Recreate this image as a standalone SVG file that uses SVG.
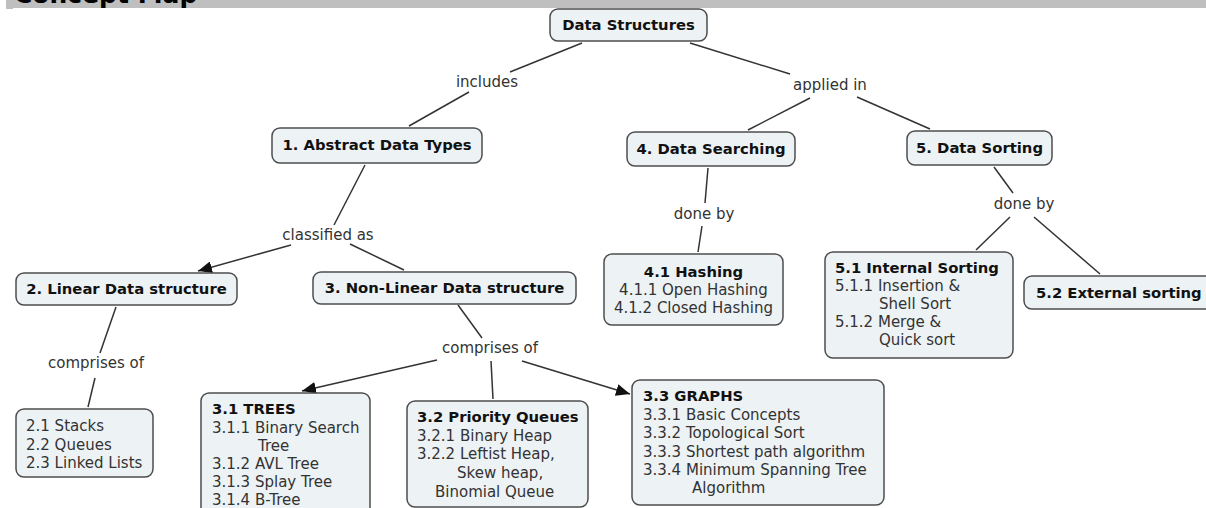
<svg xmlns="http://www.w3.org/2000/svg" width="1206" height="508" viewBox="0 0 1206 508">
<style>
.node rect{fill:#edf2f5;stroke:#4d4d4d;stroke-width:1.5}
.t{font-family:"DejaVu Sans",Verdana,sans-serif;font-size:15px;fill:#333}
.b{font-family:"DejaVu Sans",Verdana,sans-serif;font-size:14.8px;font-weight:bold;fill:#111}
.c{text-anchor:middle}
.lbl{font-family:"DejaVu Sans",Verdana,sans-serif;font-size:15px;fill:#333;text-anchor:middle}
#connectors line{stroke:#333;stroke-width:1.5}
</style>
<defs>
<marker id="arr" markerUnits="userSpaceOnUse" markerWidth="16" markerHeight="12" refX="14" refY="6" orient="auto">
<path d="M0,0 L14,6 L0,12 z" fill="#111"/>
</marker>
</defs>
<rect width="1206" height="508" fill="#fff"/>
<g id="header">
<rect x="6" y="0" width="1200" height="8" fill="#bfbfbf"/>
<rect x="6" y="8" width="7" height="1" fill="#bfbfbf"/>
<text x="14" y="2.5" font-family="DejaVu Sans,Verdana,sans-serif" font-size="25" font-weight="bold" fill="#000">Concept Map</text>
</g>
<g id="connectors">
<line x1="582" y1="43" x2="510" y2="72"/>
<line x1="469" y1="92" x2="409" y2="126"/>
<line x1="690" y1="43" x2="790" y2="74"/>
<line x1="810" y1="98" x2="748" y2="130"/>
<line x1="857" y1="97" x2="930" y2="129"/>
<line x1="365" y1="165" x2="334" y2="225"/>
<line x1="291" y1="245" x2="198" y2="271" marker-end="url(#arr)"/>
<line x1="350" y1="244" x2="404" y2="270"/>
<line x1="116" y1="307" x2="100" y2="353"/>
<line x1="95" y1="378" x2="88" y2="407"/>
<line x1="458" y1="305" x2="482" y2="338"/>
<line x1="437" y1="360" x2="302" y2="391" marker-end="url(#arr)"/>
<line x1="491" y1="361" x2="493" y2="399"/>
<line x1="522" y1="361" x2="630" y2="394" marker-end="url(#arr)"/>
<line x1="708" y1="168" x2="705" y2="203"/>
<line x1="702" y1="226" x2="698" y2="252"/>
<line x1="994" y1="167" x2="1013" y2="193"/>
<line x1="1010" y1="217" x2="976" y2="250"/>
<line x1="1034" y1="217" x2="1100" y2="274"/>
</g>
<g id="labels">
<text class="lbl" x="487" y="87">includes</text>
<text class="lbl" x="830" y="90">applied in</text>
<text class="lbl" x="328" y="240">classified as</text>
<text class="lbl" x="704" y="219">done by</text>
<text class="lbl" x="1024" y="209">done by</text>
<text class="lbl" x="96" y="368">comprises of</text>
<text class="lbl" x="490" y="353">comprises of</text>
</g>
<g id="n-ds" class="node"><rect x="550" y="9" width="157" height="32" rx="8"/><text class="b c" x="628.5" y="30">Data Structures</text></g>
<g id="n-adt" class="node"><rect x="272" y="128" width="210" height="35" rx="8"/><text class="b c" x="377" y="150">1. Abstract Data Types</text></g>
<g id="n-search" class="node"><rect x="627" y="132" width="168" height="34" rx="8"/><text class="b c" x="711" y="154">4. Data Searching</text></g>
<g id="n-sort" class="node"><rect x="907" y="131" width="145" height="34" rx="8"/><text class="b c" x="979.5" y="153">5. Data Sorting</text></g>
<g id="n-linear" class="node"><rect x="16" y="273" width="221" height="32" rx="8"/><text class="b c" x="126.5" y="294">2. Linear Data structure</text></g>
<g id="n-nonlinear" class="node"><rect x="313" y="272" width="263" height="32" rx="8"/><text class="b c" x="444.5" y="293">3. Non-Linear Data structure</text></g>
<g id="n-hash" class="node"><rect x="604" y="254" width="179" height="71" rx="8"/>
<text class="b c" x="693.5" y="277">4.1 Hashing</text>
<text class="t c" x="693.5" y="295">4.1.1 Open Hashing</text>
<text class="t c" x="693.5" y="313">4.1.2 Closed Hashing</text></g>
<g id="n-internal" class="node"><rect x="825" y="252" width="188" height="106" rx="8"/>
<text class="b" x="835" y="273">5.1 Internal Sorting</text>
<text class="t" x="835" y="291">5.1.1 Insertion &amp;</text>
<text class="t" x="879" y="309">Shell Sort</text>
<text class="t" x="835" y="327">5.1.2 Merge &amp;</text>
<text class="t" x="879" y="345">Quick sort</text></g>
<g id="n-external" class="node"><rect x="1024" y="276" width="200" height="33" rx="8"/><text class="b" x="1036" y="298">5.2 External sorting</text></g>
<g id="n-stacks" class="node"><rect x="16" y="409" width="137" height="68" rx="8"/>
<text class="t" x="26" y="431">2.1 Stacks</text>
<text class="t" x="26" y="449.5">2.2 Queues</text>
<text class="t" x="26" y="468">2.3 Linked Lists</text></g>
<g id="n-trees" class="node"><rect x="201" y="393" width="169" height="135" rx="8"/>
<text class="b" x="212" y="414">3.1 TREES</text>
<text class="t" x="212" y="432.5">3.1.1 Binary Search</text>
<text class="t" x="258" y="450.5">Tree</text>
<text class="t" x="212" y="468.5">3.1.2 AVL Tree</text>
<text class="t" x="212" y="487">3.1.3 Splay Tree</text>
<text class="t" x="212" y="505">3.1.4 B-Tree</text></g>
<g id="n-pq" class="node"><rect x="407" y="401" width="181" height="106" rx="8"/>
<text class="b" x="417" y="422">3.2 Priority Queues</text>
<text class="t" x="417" y="441">3.2.1 Binary Heap</text>
<text class="t" x="417" y="459">3.2.2 Leftist Heap,</text>
<text class="t" x="457" y="478">Skew heap,</text>
<text class="t" x="435" y="497">Binomial Queue</text></g>
<g id="n-graphs" class="node"><rect x="632" y="380" width="252" height="125" rx="8"/>
<text class="b" x="643" y="401">3.3 GRAPHS</text>
<text class="t" x="643" y="420">3.3.1 Basic Concepts</text>
<text class="t" x="643" y="438">3.3.2 Topological Sort</text>
<text class="t" x="643" y="457">3.3.3 Shortest path algorithm</text>
<text class="t" x="643" y="475">3.3.4 Minimum Spanning Tree</text>
<text class="t" x="692" y="493">Algorithm</text></g>
</svg>
